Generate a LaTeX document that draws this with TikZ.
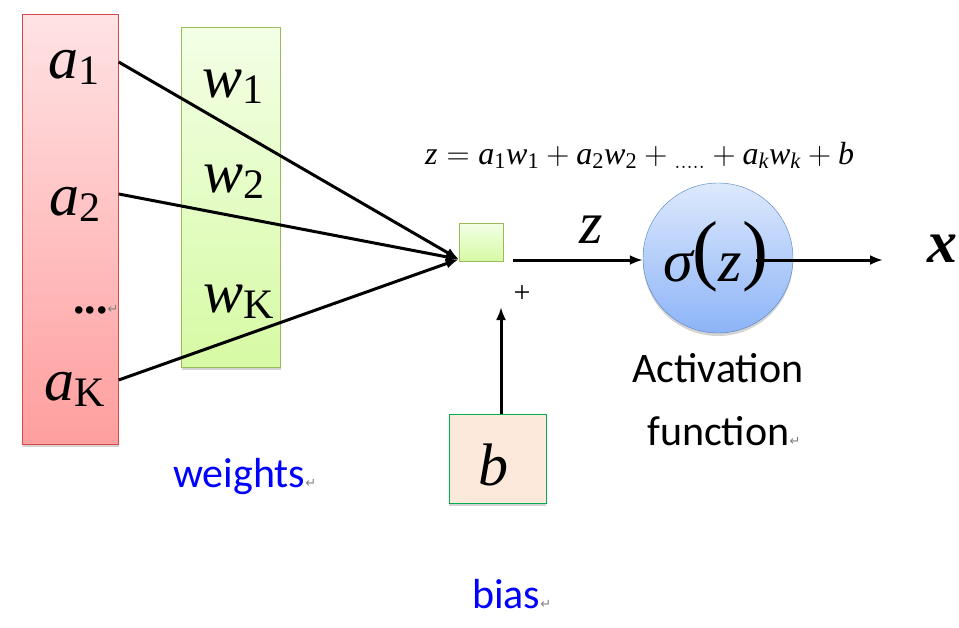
\RequirePackage{fix-cm}
\documentclass[tikz,border=0pt]{standalone}
\usepackage{fontspec}
\setmainfont{Liberation Serif}
\newfontfamily\labelfont{Carlito}
\newfontfamily\markfont{DejaVu Sans}
\usetikzlibrary{positioning}
\usetikzlibrary{calc}
\usetikzlibrary{shadows}
\usetikzlibrary{arrows.meta}

\definecolor{redtop}{HTML}{FFE3E5}
\definecolor{redbot}{HTML}{FF9E9E}
\definecolor{redline}{HTML}{D24A4A}
\definecolor{greentop}{HTML}{F3FFE6}
\definecolor{greenbot}{HTML}{D6FAA4}
\definecolor{greenline}{HTML}{9BBB59}
\definecolor{bluetop}{HTML}{DDE9FC}
\definecolor{bluebot}{HTML}{8DB4F8}
\definecolor{blueline}{HTML}{4F81BD}
\definecolor{peach}{HTML}{FCE9DB}
\definecolor{biasline}{HTML}{00B050}
\definecolor{labelblue}{HTML}{0000FF}

\newcommand{\retmark}{{\markfont\fontsize{13}{13}\selectfont\color{gray}\symbol{"21B5}}}
\newcommand{\bigvar}[2]{\mathit{#1}\lower6pt\hbox{$\scriptstyle\mathrm{#2}$}}

\begin{document}
\begin{tikzpicture}[x=1pt, y=-1pt,
  big/.style={inner sep=0pt, anchor=base west, font=\fontsize{60}{60}\selectfont},
  word/.style={inner sep=0pt, anchor=base west, font=\labelfont\fontsize{42}{42}\selectfont},
  panel/.style={drop shadow={shadow xshift=0pt, shadow yshift=-3pt, opacity=.35}},
  wire/.style={line width=3pt, -{Latex[length=13pt, width=10pt]}}]
\useasboundingbox (0,0) rectangle (959,627);

% inputs and weights
\node[panel, draw=redline, top color=redtop, bottom color=redbot, minimum width=96, minimum height=430] (inputs) at (70.5,229) {};
\node[panel, draw=greenline, top color=greentop, bottom color=greenbot, minimum width=99, minimum height=340] (weights) at (231,197) {};
\node[big] (a1) at (48,78) {$\bigvar{a}{1}$};
\node[big] (a2) at (49,215) {$\bigvar{a}{2}$};
\node[big] (dots) at (73,313) {\fontsize{46}{46}\selectfont\textbf{...}\retmark};
\node[big] (aK) at (44,400) {$\bigvar{a}{K}$};
\node[big] (w1) at (202,97) {$\bigvar{w}{1}$};
\node[big] (w2) at (203,192) {$\bigvar{w}{2}$};
\node[big] (wK) at (203,312) {$\bigvar{w}{K}$};

% summing point
\node[draw=greenline, top color=greentop, bottom color=greenbot, minimum width=44, minimum height=38] (sum) at (481,242) {};
\coordinate (join) at ($(sum.south west)+(0,-2)$);
\foreach \y in {62,194,380}
  \draw[wire] (inputs.east |- 0,\y) -- (join);
\node[inner sep=0pt, anchor=base west, font=\fontsize{32}{32}\selectfont] (sumeq) at (425,164)
  {$\mathit{z} = \mathit{a}_{\mathrm{1}}\mathit{w}_{\mathrm{1}} + \mathit{a}_{\mathrm{2}}\mathit{w}_{\mathrm{2}} +{}_{\mathrm{.....}}+ \mathit{a}_{\mathit{k}}\mathit{w}_{\mathit{k}} + \mathit{b}$};
\node[font=\fontsize{30}{30}\selectfont, inner sep=0pt] (plus) at (522,294) {+};

% bias
\node[panel, draw=biasline, fill=peach, minimum width=97, minimum height=89] (bias) at (497.5,458.5) {};
\node[big] (b) at (478,485) {$\mathit{b}$};
\coordinate (bend) at (501,307);
\draw[wire] (bend |- bias.north) -- (bend);

% activation
\coordinate (zstart) at (513,260);
\node[panel, circle, draw=blueline, top color=bluetop, bottom color=bluebot, minimum size=150] (act) at (718,258) {};
\draw[wire] (zstart) -- (act.west |- zstart);
\node[big] (zlab) at (579,243) {\itshape z};
\node[big] (sig) at (663,281) {\itshape σ\raisebox{6pt}{\upshape\fontsize{78}{78}\selectfont(}z\raisebox{6pt}{\upshape\fontsize{78}{78}\selectfont)}};
\coordinate (xend) at (883,260);
\draw[wire] ($(act.center)+(38,2)$) -- (xend);
\node[big] (xout) at (927,262) {\bfseries\itshape x};

% labels
\node[word, text=labelblue] (wlab) at (173,487) {weights\retmark};
\node[word] (actlab1) at (632,382) {Activation};
\node[word] (actlab2) at (647,445) {function\retmark};
\node[word, text=labelblue] (blab) at (472,608) {bias\retmark};
\end{tikzpicture}
\end{document}
